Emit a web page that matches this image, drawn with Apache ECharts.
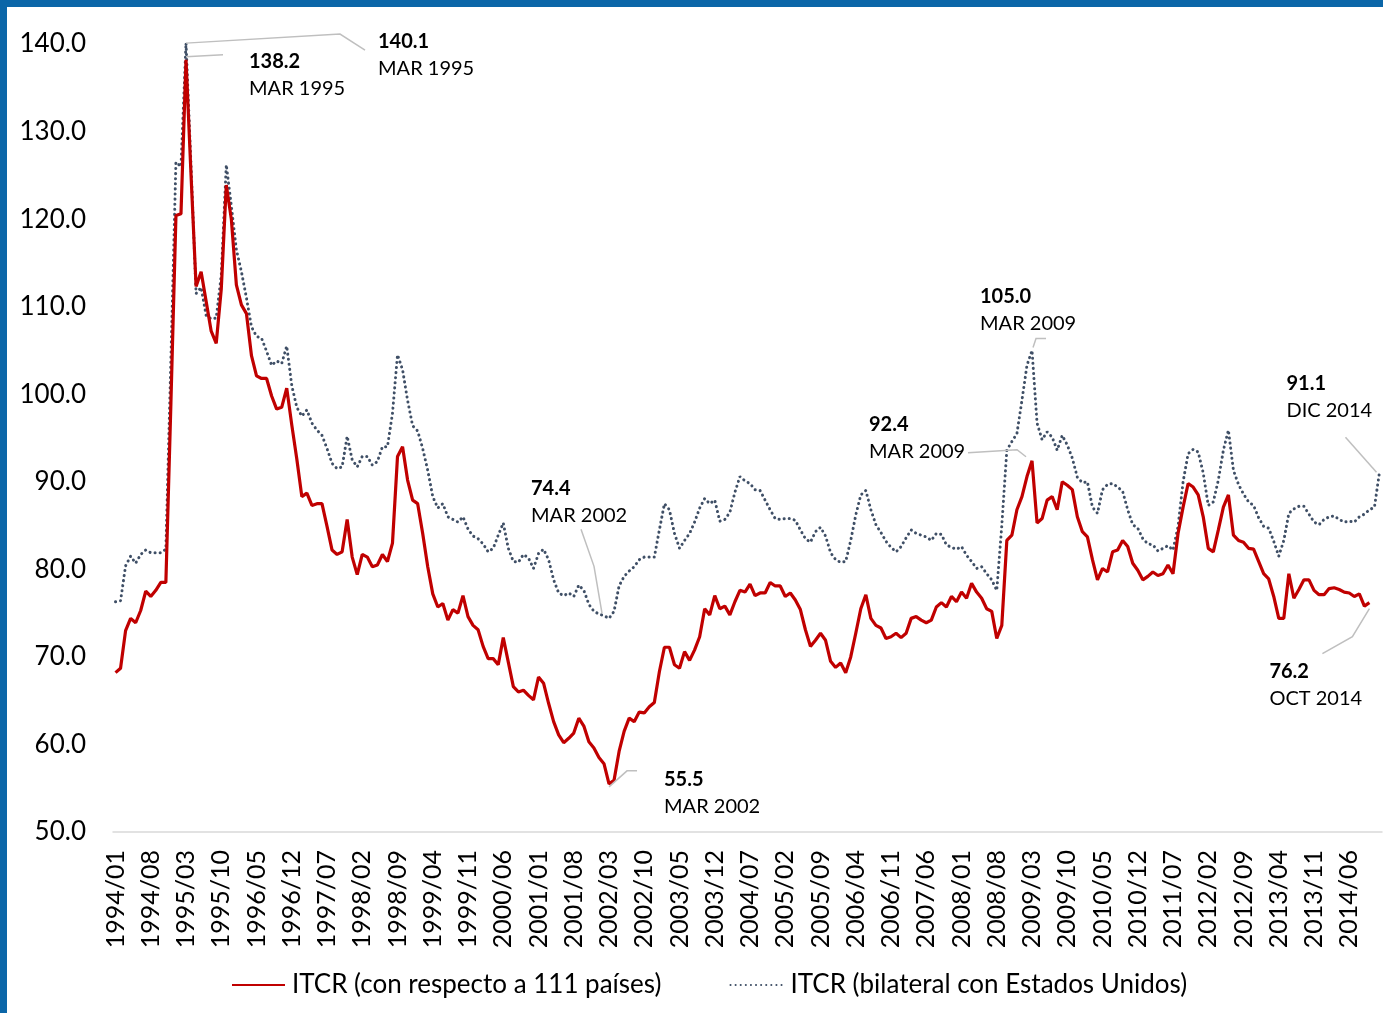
<!DOCTYPE html>
<html>
<head>
<meta charset="utf-8">
<script src="https://cdn.jsdelivr.net/npm/echarts@6/dist/echarts.min.js"></script>
<style>
  html, body { margin: 0; padding: 0; background: #fff; }
  #wrap { position: relative; width: 1383px; height: 1013px; }
  #chart { position: absolute; left: 0; top: 0; width: 1383px; height: 1013px; }
  .bar { position: absolute; background: #0b66a8; }
</style>
</head>
<body>
<div id="wrap">
  <div id="chart"></div>
  <div class="bar" style="left:0;top:0;width:1383px;height:7px"></div>
  <div class="bar" style="left:0;top:0;width:7px;height:1013px"></div>
</div>
<script>
// monthly categories 1994/01 .. 2014/12
const months = [];
for (let y = 1994; y <= 2014; y++) {
  for (let m = 1; m <= 12; m++) months.push(y + "/" + (m < 10 ? "0" + m : m));
}

// ITCR (con respecto a 111 países), 1994/01 .. 2014/10
const itcr111 = [
  68.2, 68.7, 73.0, 74.4, 73.9, 75.3, 77.5, 76.9, 77.6, 78.5, 78.5, 99.0,
  120.4, 120.6, 138.2, 125.0, 112.3, 114.0, 110.6, 107.2, 105.8, 112.0, 123.9, 120.0,
  112.5, 110.2, 109.2, 104.4, 102.1, 101.8, 101.8, 99.8, 98.3, 98.5, 100.7, 96.5,
  92.6, 88.3, 88.7, 87.3, 87.5, 87.5, 84.9, 82.2, 81.7, 82.0, 85.7, 81.4,
  79.4, 81.7, 81.4, 80.3, 80.5, 81.7, 80.9, 83.0, 92.9, 94.0, 90.2, 87.9,
  87.5, 84.1, 80.3, 77.2, 75.7, 76.1, 74.2, 75.4, 75.0, 77.0, 74.6, 73.6,
  73.1, 71.2, 69.8, 69.8, 69.1, 72.2, 69.4, 66.6, 66.0, 66.2, 65.6, 65.1,
  67.7, 67.0, 64.7, 62.6, 61.1, 60.2, 60.7, 61.3, 63.0, 62.1, 60.3, 59.6,
  58.5, 57.8, 55.5, 55.9, 59.2, 61.5, 63.0, 62.6, 63.7, 63.6, 64.3, 64.8,
  68.3, 71.1, 71.1, 69.1, 68.7, 70.6, 69.6, 70.8, 72.3, 75.5, 74.8, 77.0,
  75.5, 75.8, 74.8, 76.3, 77.6, 77.4, 78.3, 77.0, 77.3, 77.3, 78.5, 78.1,
  78.1, 76.9, 77.3, 76.5, 75.4, 73.1, 71.2, 71.9, 72.7, 71.9, 69.5, 68.8,
  69.3, 68.2, 70.0, 72.7, 75.5, 77.1, 74.4, 73.6, 73.3, 72.1, 72.3, 72.7,
  72.2, 72.7, 74.4, 74.6, 74.2, 73.9, 74.2, 75.7, 76.2, 75.7, 76.9, 76.3,
  77.4, 76.7, 78.4, 77.4, 76.7, 75.5, 75.2, 72.1, 73.6, 83.3, 83.9, 86.8,
  88.3, 90.6, 92.4, 85.3, 85.8, 87.9, 88.3, 86.8, 90.0, 89.6, 89.1, 86.0,
  84.3, 83.7, 81.1, 78.8, 80.1, 79.7, 82.0, 82.2, 83.3, 82.6, 80.7, 79.9,
  78.8, 79.2, 79.7, 79.3, 79.5, 80.5, 79.5, 84.1, 87.1, 89.8, 89.4, 88.5,
  86.0, 82.4, 82.0, 84.5, 87.1, 88.5, 83.9, 83.3, 83.1, 82.4, 82.3, 80.9,
  79.5, 78.9, 76.9, 74.4, 74.4, 79.5, 76.7, 77.7, 78.8, 78.8, 77.6, 77.1,
  77.1, 77.8, 77.9, 77.7, 77.4, 77.3, 76.9, 77.2, 75.8, 76.2
];

// ITCR (bilateral con Estados Unidos), 1994/01 .. 2014/12
const itcrUS = [
  76.3, 76.4, 80.4, 81.5, 80.7, 81.7, 82.2, 81.9, 81.9, 81.9, 82.3, 104.0,
  126.5, 126.0, 140.1, 126.0, 111.5, 112.2, 109.0, 108.6, 108.7, 113.6, 126.2, 121.5,
  116.5, 114.0, 111.0, 107.7, 106.6, 106.4, 104.9, 103.3, 103.8, 103.5, 105.5, 101.0,
  98.5, 97.5, 98.2, 96.7, 95.9, 95.3, 93.8, 92.1, 91.5, 91.7, 95.2, 92.5,
  91.7, 92.9, 92.9, 91.9, 92.3, 94.0, 94.0, 97.8, 104.5, 102.8, 99.3, 96.4,
  95.8, 93.8, 91.3, 88.3, 87.0, 87.5, 86.0, 85.7, 85.4, 86.0, 84.6, 83.8,
  83.5, 82.9, 82.0, 82.4, 83.9, 85.3, 82.4, 80.9, 80.8, 81.7, 81.3, 80.1,
  81.8, 82.3, 81.1, 78.8, 77.3, 77.0, 77.3, 76.9, 78.2, 77.6, 76.0, 75.2,
  74.9, 74.7, 74.4, 75.2, 78.1, 79.2, 79.8, 80.3, 81.1, 81.4, 81.4, 81.4,
  84.5, 87.5, 86.8, 84.1, 82.4, 83.3, 84.1, 85.4, 87.0, 88.1, 87.5, 87.9,
  85.5, 85.7, 86.5, 88.8, 90.6, 90.1, 89.8, 89.1, 89.0, 87.9, 86.8, 85.8,
  85.7, 85.8, 85.8, 85.6, 84.5, 83.5, 83.1, 84.3, 84.8, 83.8, 81.9, 81.1,
  80.8, 80.9, 83.3, 86.2, 88.5, 89.0, 86.8, 85.1, 84.2, 83.2, 82.5, 82.0,
  82.6, 83.6, 84.5, 84.1, 83.9, 83.7, 83.3, 84.1, 84.0, 82.8, 82.5, 82.3,
  82.6, 81.6, 80.9, 80.1, 80.3, 79.5, 78.8, 77.6, 85.0, 93.6, 94.6, 95.5,
  99.3, 103.3, 105.0, 96.7, 94.8, 95.7, 95.1, 93.6, 95.3, 94.2, 92.7, 90.5,
  89.9, 90.0, 87.1, 86.4, 89.1, 89.7, 89.8, 89.4, 88.9, 86.8, 85.1, 84.7,
  83.5, 82.9, 82.8, 82.1, 82.4, 82.7, 82.2, 84.9, 90.0, 93.2, 93.7, 93.4,
  91.0, 87.3, 87.7, 90.2, 93.6, 95.9, 91.3, 89.7, 88.6, 87.7, 87.3, 85.9,
  84.9, 84.7, 83.2, 81.5, 83.3, 86.4, 86.9, 87.2, 87.2, 86.3, 85.4, 85.1,
  85.7, 86.0, 86.1, 85.7, 85.4, 85.5, 85.4, 86.0, 86.3, 86.8, 87.1, 91.1
];

const seriesNames = ["ITCR (con respecto a 111 países)", "ITCR (bilateral con Estados Unidos)"];

// callouts: series, month index, value text, date text
const callouts = [
  { s: 1, i: 14, val: "140.1", date: "MAR 1995" },
  { s: 0, i: 14, val: "138.2", date: "MAR 1995" },
  { s: 1, i: 98, val: "74.4", date: "MAR 2002" },
  { s: 0, i: 98, val: "55.5", date: "MAR 2002" },
  { s: 0, i: 182, val: "92.4", date: "MAR 2009" },
  { s: 1, i: 182, val: "105.0", date: "MAR 2009" },
  { s: 1, i: 251, val: "91.1", date: "DIC 2014" },
  { s: 0, i: 249, val: "76.2", date: "OCT 2014" }
];
// leader / text offsets from the data point (pixels)
const calloutLayout = [
  { line: [[0, 0], [154, -9], [179, 7]], tx: 192, ty: -2 },
  { line: [[0, -3], [37, -5]], tx: 63, ty: 2 },
  { line: [[-7, -5], [-15, -52], [-28, -89]], tx: -78, ty: -130 },
  { line: [[0, 3], [18, -13], [28, -13]], tx: 55, ty: -4 },
  { line: [[-6, -4], [-15, -11], [-64, -8]], tx: -163, ty: -36 },
  { line: [[1, -3], [4, -12], [14, -12]], tx: -52, ty: -54 },
  { line: [[-3, 0], [-34, -35]], tx: -93, ty: -89 },
  { line: [[0, 6], [-17, 34], [-47, 51]], tx: -100, ty: 69 }
];

const FONT = "Lato, 'Open Sans', sans-serif";
const chart = echarts.init(document.getElementById("chart"));

chart.setOption({
  animation: false,
  backgroundColor: "#fff",
  grid: { left: 113, right: 1, top: 44, bottom: 181, containLabel: false },
  legend: {
    bottom: 10,
    left: 226,
    itemWidth: 53,
    itemHeight: 14,
    itemGap: 68,
    itemStyle: { opacity: 0 },
    textStyle: { fontFamily: FONT, fontSize: 26, color: "#000", padding: [0, 0, 0, 2] },
    data: seriesNames
  },
  xAxis: {
    type: "category",
    data: months,
    boundaryGap: true,
    axisLine: { lineStyle: { color: "#d9d9d9", width: 1.5 } },
    axisTick: { show: false },
    axisLabel: {
      interval: 6,
      rotate: 90,
      margin: 18,
      fontFamily: FONT,
      fontSize: 25,
      color: "#000"
    },
    splitLine: { show: false }
  },
  yAxis: {
    type: "value",
    min: 50,
    max: 140,
    interval: 10,
    axisLine: { show: false },
    axisTick: { show: false },
    splitLine: { show: false },
    axisLabel: {
      margin: 27,
      fontFamily: FONT,
      fontSize: 26,
      color: "#000",
      formatter: v => v.toFixed(1)
    }
  },
  series: [
    {
      name: seriesNames[0],
      type: "line",
      data: itcr111,
      symbol: "none",
      color: "#c00000",
      lineStyle: { color: "#c00000", width: 3.2 },
      z: 3
    },
    {
      name: seriesNames[1],
      type: "line",
      data: itcrUS,
      symbol: "none",
      color: "#3f4f66",
      lineStyle: { color: "#3f4f66", width: 3, type: [0.1, 5], cap: "round" },
      z: 2
    }
  ]
});

// callout labels anchored on the data points
const graphics = [];
callouts.forEach((c, k) => {
  const data = c.s === 0 ? itcr111 : itcrUS;
  const p = chart.convertToPixel({ gridIndex: 0 }, [c.i, data[c.i]]);
  const lay = calloutLayout[k];
  graphics.push({
    type: "polyline",
    silent: true,
    shape: { points: lay.line.map(o => [p[0] + o[0], p[1] + o[1]]) },
    style: { stroke: "#bfbfbf", lineWidth: 1.5, fill: null },
    z: 10
  });
  graphics.push({
    type: "text",
    silent: true,
    x: p[0] + lay.tx,
    y: p[1] + lay.ty,
    style: {
      text: c.val,
      fontFamily: FONT,
      fontSize: 20,
      fontWeight: "bold",
      fill: "#000",
      verticalAlign: "middle"
    },
    z: 10
  });
  graphics.push({
    type: "text",
    silent: true,
    x: p[0] + lay.tx,
    y: p[1] + lay.ty + 27,
    style: {
      text: c.date,
      fontFamily: FONT,
      fontSize: 20,
      fill: "#000",
      verticalAlign: "middle"
    },
    z: 10
  });
});
chart.setOption({ graphic: graphics });
</script>
</body>
</html>
